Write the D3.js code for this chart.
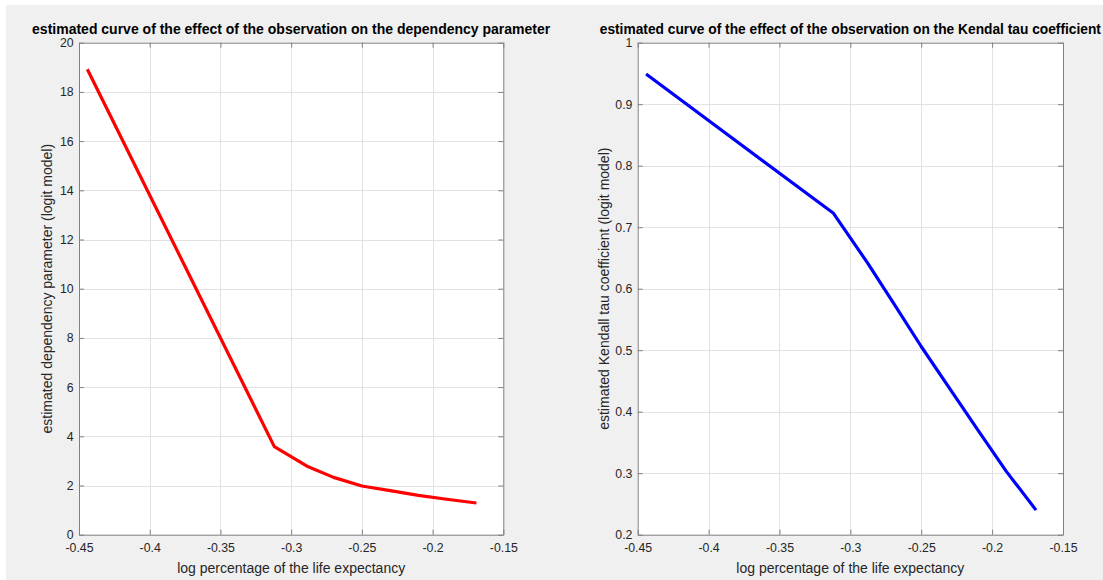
<!DOCTYPE html>
<html>
<head>
<meta charset="utf-8">
<script src="https://cdn.jsdelivr.net/npm/d3@7"></script>
<style>
  html, body { margin: 0; padding: 0; background: #ffffff; }
  svg { display: block; font-family: "Liberation Sans", Arial, Helvetica, sans-serif; }
</style>
</head>
<body>
<svg id="fig" width="1103" height="580"></svg>
<script>
// Shared abscissa: log percentage of the life expectancy
const logLifePct = [-0.4441, -0.3119, -0.2879, -0.27, -0.25, -0.23, -0.21, -0.19, -0.169];
// Estimated dependency parameter (logit model)
const dependencyParam = [18.92, 3.58, 2.76, 2.33, 1.98, 1.79, 1.60, 1.44, 1.29];
// Estimated Kendall tau coefficient (logit model)
const kendallTau = [0.949, 0.7226, 0.642, 0.578, 0.506, 0.438, 0.370, 0.303, 0.240];

// Tick values and their printed labels
const xTicks = [-0.45, -0.4, -0.35, -0.3, -0.25, -0.2, -0.15];
const xTickLabels = ["-0.45", "-0.4", "-0.35", "-0.3", "-0.25", "-0.2", "-0.15"];
const yTicksLeft = [0, 2, 4, 6, 8, 10, 12, 14, 16, 18, 20];
const yTickLabelsLeft = ["0", "2", "4", "6", "8", "10", "12", "14", "16", "18", "20"];
const yTicksRight = [0.2, 0.3, 0.4, 0.5, 0.6, 0.7, 0.8, 0.9, 1];
const yTickLabelsRight = ["0.2", "0.3", "0.4", "0.5", "0.6", "0.7", "0.8", "0.9", "1"];

const FIG_W = 1103;
const svg = d3.select("#fig");

// figure background
svg.append("rect").attr("x", 6).attr("y", 5).attr("width", FIG_W - 6).attr("height", 575)
  .attr("fill", "#f0f0f0");

const AX_COLOR = "#262626";
const BOX_COLOR = "#808080";
const GRID_COLOR = "#e2e2e2";
const TICK_FONT = "12.3px";
const LABEL_FONT = 14;

function panel(opts) {
  const { left, right, top, bottom, xDomain, yDomain, xs, ys, color,
          xTickVals, xTickText, yTickVals, yTickText, title, xLabel, yLabel, yLabelX } = opts;
  const x = d3.scaleLinear().domain(xDomain).range([left, right]);
  const y = d3.scaleLinear().domain(yDomain).range([bottom, top]);
  const g = svg.append("g");

  g.append("rect").attr("x", left).attr("y", top)
    .attr("width", right - left).attr("height", bottom - top).attr("fill", "#ffffff");

  // grid
  g.append("g").selectAll("line.gx").data(xTickVals.slice(1, -1)).join("line")
    .attr("x1", d => Math.round(x(d)) + 0.5).attr("x2", d => Math.round(x(d)) + 0.5)
    .attr("y1", top).attr("y2", bottom)
    .attr("stroke", GRID_COLOR).attr("stroke-width", 1);
  g.append("g").selectAll("line.gy").data(yTickVals.slice(1, -1)).join("line")
    .attr("y1", d => Math.round(y(d)) + 0.5).attr("y2", d => Math.round(y(d)) + 0.5)
    .attr("x1", left).attr("x2", right)
    .attr("stroke", GRID_COLOR).attr("stroke-width", 1);

  const fmtX = d => xTickText[xTickVals.indexOf(d)];
  const fmtY = d => yTickText[yTickVals.indexOf(d)];

  const styleAxis = (sel) => {
    sel.select(".domain").attr("stroke", BOX_COLOR).attr("stroke-width", 1);
    sel.selectAll(".tick line").attr("stroke", BOX_COLOR).attr("stroke-width", 1);
    sel.selectAll(".tick text").attr("fill", AX_COLOR)
      .style("font-size", TICK_FONT).style("font-family", "'Liberation Sans', Arial, sans-serif");
  };

  const bottomAxis = g.append("g").attr("transform", `translate(0,${bottom})`)
    .call(d3.axisBottom(x).tickValues(xTickVals).tickFormat(fmtX).tickSize(-5).tickSizeOuter(0).tickPadding(8.5));
  styleAxis(bottomAxis);
  const topAxis = g.append("g").attr("transform", `translate(0,${top})`)
    .call(d3.axisTop(x).tickValues(xTickVals).tickFormat("").tickSize(-5).tickSizeOuter(0));
  styleAxis(topAxis);
  const leftAxis = g.append("g").attr("transform", `translate(${left},0)`)
    .call(d3.axisLeft(y).tickValues(yTickVals).tickFormat(fmtY).tickSize(-5).tickSizeOuter(0).tickPadding(5.3));
  styleAxis(leftAxis);
  const rightAxis = g.append("g").attr("transform", `translate(${right},0)`)
    .call(d3.axisRight(y).tickValues(yTickVals).tickFormat("").tickSize(-5).tickSizeOuter(0));
  styleAxis(rightAxis);

  // curve
  const line = d3.line().x((d, i) => x(xs[i])).y((d, i) => y(ys[i]));
  g.append("path").datum(ys).attr("d", line)
    .attr("fill", "none").attr("stroke", color).attr("stroke-width", 3.2)
    .attr("stroke-linejoin", "round");

  // title, centred over the axes; shrunk a little if it would run past the figure edge
  const cx = (left + right) / 2;
  const titleText = g.append("text").attr("x", cx).attr("y", top - 9)
    .attr("text-anchor", "middle").attr("fill", "#000000")
    .style("font-size", LABEL_FONT + "px").style("font-weight", "bold")
    .text(title);
  const tw = titleText.node().getComputedTextLength();
  const room = 2 * Math.min(cx - 2, FIG_W - 2 - cx);
  if (tw > room) titleText.style("font-size", (LABEL_FONT * room / tw).toFixed(2) + "px");

  // x label
  g.append("text").attr("x", cx).attr("y", bottom + 38.5)
    .attr("text-anchor", "middle").attr("fill", AX_COLOR)
    .style("font-size", LABEL_FONT + "px")
    .text(xLabel);

  // y label
  g.append("text")
    .attr("transform", `translate(${yLabelX},${(top + bottom) / 2}) rotate(-90)`)
    .attr("text-anchor", "middle").attr("fill", AX_COLOR)
    .style("font-size", LABEL_FONT + "px")
    .text(yLabel);
}

panel({
  left: 79, right: 503.3, top: 42.7, bottom: 534.7,
  xDomain: [-0.45, -0.15], yDomain: [0, 20],
  xs: logLifePct, ys: dependencyParam, color: "#ff0000",
  xTickVals: xTicks, xTickText: xTickLabels,
  yTickVals: yTicksLeft, yTickText: yTickLabelsLeft,
  title: "estimated curve of the effect of the observation on the dependency parameter",
  xLabel: "log percentage of the life expectancy",
  yLabel: "estimated dependency parameter (logit model)",
  yLabelX: 52
});

panel({
  left: 637.7, right: 1063, top: 42.7, bottom: 534.7,
  xDomain: [-0.45, -0.15], yDomain: [0.2, 1],
  xs: logLifePct, ys: kendallTau, color: "#0000ff",
  xTickVals: xTicks, xTickText: xTickLabels,
  yTickVals: yTicksRight, yTickText: yTickLabelsRight,
  title: "estimated curve of the effect of the observation on the Kendal tau coefficient",
  xLabel: "log percentage of the life expectancy",
  yLabel: "estimated Kendall tau coefficient (logit model)",
  yLabelX: 609
});
</script>
</body>
</html>
